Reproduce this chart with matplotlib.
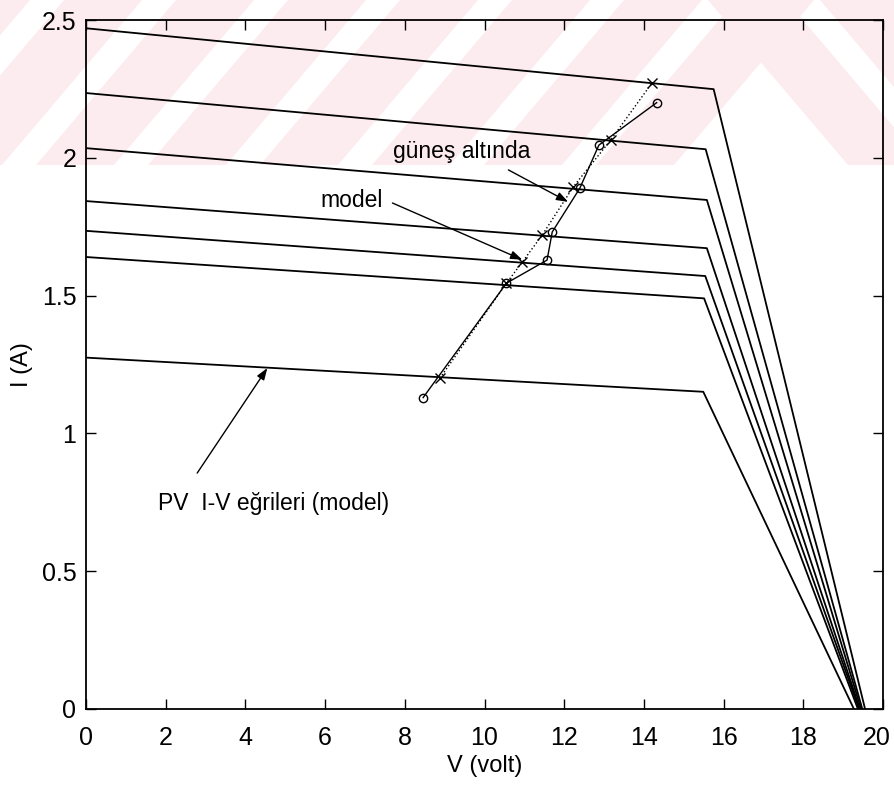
import matplotlib
matplotlib.use("Agg")
import matplotlib.pyplot as plt
import matplotlib.transforms as mtransforms
from matplotlib.patches import Polygon, Rectangle

plt.rcParams['font.family'] = ['Liberation Sans Narrow', 'Liberation Sans', 'DejaVu Sans']

# PV I-V curves (model), one entry per irradiance level, top to bottom
i_sc = [2.47, 2.235, 2.035, 1.843, 1.735, 1.64, 1.275]
v_knee = [15.75, 15.55, 15.58, 15.58, 15.54, 15.51, 15.49]
i_knee = [2.249, 2.031, 1.847, 1.672, 1.571, 1.49, 1.151]
v_oc = [19.55, 19.48, 19.45, 19.42, 19.4, 19.37, 19.27]

# operating points: measured under the sun (x) and model (o)
meas_v = [8.88, 10.55, 10.95, 11.45, 12.23, 13.17, 14.21]
meas_i = [1.20, 1.545, 1.622, 1.72, 1.895, 2.065, 2.273]
model_v = [8.46, 10.55, 11.57, 11.70, 12.39, 12.87, 14.32]
model_i = [1.13, 1.545, 1.629, 1.731, 1.889, 2.046, 2.20]

x_ticks = [0, 2, 4, 6, 8, 10, 12, 14, 16, 18, 20]
y_ticks = [0, 0.5, 1, 1.5, 2, 2.5]
y_tick_labels = ['0', '0.5', '1', '1.5', '2', '2.5']

W, H = 894, 785
fig = plt.figure(figsize=(W / 100, H / 100), dpi=100)

# faint watermark stripes across the top of the page
bg = fig.add_axes([0, 0, 1, 1], zorder=0)
bg.set_xlim(0, W)
bg.set_ylim(H, 0)
bg.axis('off')
clip = Rectangle((0, 0), W, 165, transform=bg.transData, visible=False)
bg.add_patch(clip)
pink = '#fdecef'
period, band, shift = 112, 78, 140
x0 = -300
while x0 < W + 300:
    if x0 + band < 720:
        pts = [(x0, 165), (x0 + band, 165), (x0 + band + shift, 0), (x0 + shift, 0)]
    else:
        pts = [(x0, 0), (x0 + band, 0), (x0 + band + shift, 165), (x0 + shift, 165)]
    p = Polygon(pts, closed=True, facecolor=pink, edgecolor='none')
    bg.add_patch(p)
    p.set_clip_path(clip)
    x0 += period

ax = fig.add_axes([86 / W, 1 - 709 / H, (883 - 86) / W, (709 - 20) / H], zorder=1)
ax.patch.set_alpha(0)

for k in range(len(i_sc)):
    ax.plot([0, v_knee[k], v_oc[k]], [i_sc[k], i_knee[k], 0], color='black', lw=1.3)

ax.plot(meas_v, meas_i, color='black', lw=1.0, ls=':', marker='x', ms=7, mew=1.0)
ax.plot(model_v, model_i, color='black', lw=1.0, ls='-', marker='o', ms=6,
        mfc='none', mew=1.0)

arrow = dict(arrowstyle='-|>,head_length=0.7,head_width=0.25', color='black', lw=1.0,
             shrinkA=0, shrinkB=0)
ax.annotate('', xy=(12.1, 1.84), xytext=(10.6, 1.956), arrowprops=arrow)
ax.annotate('', xy=(10.95, 1.63), xytext=(7.69, 1.836), arrowprops=arrow)
ax.annotate('', xy=(4.55, 1.237), xytext=(2.79, 0.856), arrowprops=arrow)

ax.text(7.7, 2.0, 'güneş altında', fontsize=16.5, ha='left', va='baseline')
ax.text(7.45, 1.82, 'model', fontsize=16.5, ha='right', va='baseline')
ax.text(1.8, 0.722, 'PV  I-V eğrileri (model)', fontsize=16.5, ha='left', va='baseline')

ax.set_xlim(0, 20)
ax.set_ylim(0, 2.5)
ax.set_xticks(x_ticks)
ax.set_yticks(y_ticks)
ax.set_yticklabels(y_tick_labels)
ax.tick_params(direction='in', length=7, width=1.0, labelsize=18,
               top=True, right=True)
ax.tick_params(axis='x', pad=12)
ax.tick_params(axis='y', pad=7)
for s in ax.spines.values():
    s.set_linewidth(1.3)
ax.set_xlabel('V (volt)', fontsize=17, labelpad=4)
ax.set_ylabel('I (A)', fontsize=17, labelpad=6)

# nudge the last x label so it stays inside the page
last = ax.get_xticklabels()[-1]
last.set_transform(last.get_transform() + mtransforms.ScaledTranslation(-6 / 100, 0, fig.dpi_scale_trans))

fig.savefig('out.png', dpi=100)
